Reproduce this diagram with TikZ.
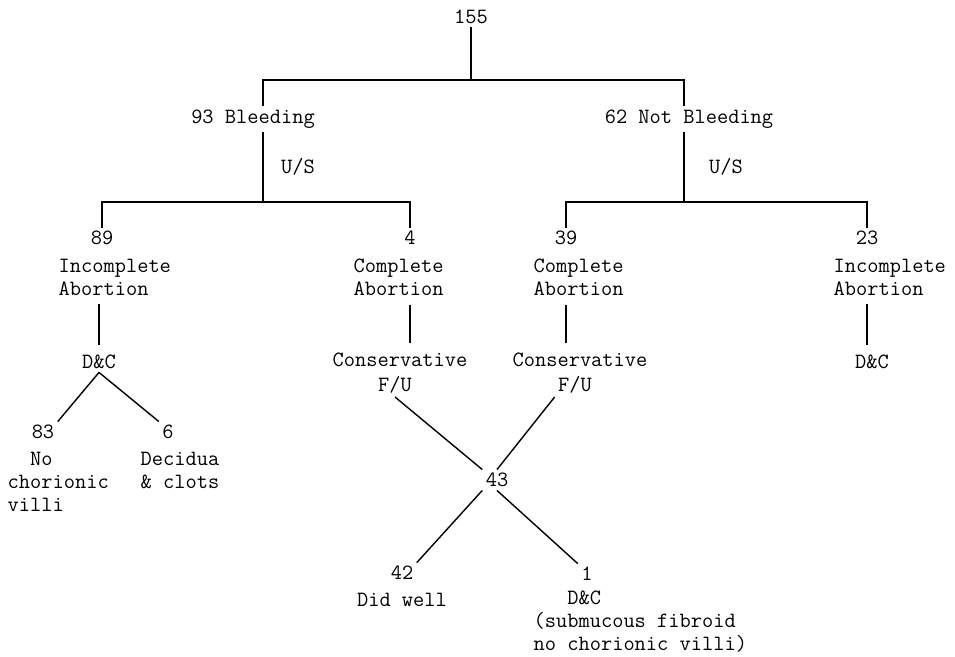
\documentclass[tikz,border=0pt]{standalone}
\usepackage{tikz}

\tikzset{
  lbl/.style={font=\fontsize{15.5}{16.5}\selectfont\ttfamily, inner sep=2pt},
  blk/.style={lbl, align=left, anchor=north west, inner sep=0pt},
  drop/.style={shorten <=6pt, shorten >=5pt}
}

\begin{document}
\begin{tikzpicture}[x=0.025cm, y=-0.025cm, line width=1pt]
  \useasboundingbox (0,0) rectangle (955,657);

  \node[lbl] (n155) at (471,17) {155};
  \coordinate (jtop) at (471,80);
  \coordinate (jl) at (263,80);
  \coordinate (jr) at (684,80);
  \node[lbl] (n93) at (253,119) {93 Bleeding};
  \node[lbl] (n62) at (689,119) {62 Not Bleeding};
  \draw (n155) -- (jtop);
  \draw (jl |- n93.north) -- (jl) -- (jr) -- (jr |- n62.north);

  \coordinate (j93) at (263,202);
  \coordinate (j62) at (684,202);
  \node[lbl] (us93) at (298,167) {U/S};
  \node[lbl] (us62) at (726,167) {U/S};
  \draw (j93 |- n93.south) -- (j93);
  \draw (j62 |- n62.south) -- (j62);

  \node[lbl] (n89) at (102,238) {89};
  \node[lbl] (n4) at (410,238) {4};
  \node[lbl] (n39) at (566,238) {39};
  \node[lbl] (n23) at (867,238) {23};
  \draw (n89) |- (j93) -| (n4);
  \draw (n39) |- (j62) -| (n23);
  \node[blk] (t89) at (58,258) {Incomplete\\Abortion};
  \node[blk] (t4) at (353,258) {Complete\\Abortion};
  \node[blk] (t39) at (533,258) {Complete\\Abortion};
  \node[blk] (t23) at (833,258) {Incomplete\\Abortion};

  \node[lbl] (dcA) at (99,362) {D\&C};
  \node[lbl] (cvA) at (400,360) {Conservative};
  \node[lbl] (fuA) at (395,385) {F/U};
  \node[lbl] (cvB) at (580,360) {Conservative};
  \node[lbl] (fuB) at (575,385) {F/U};
  \node[lbl] (dcB) at (872,362) {D\&C};
  \draw[drop] (dcA |- t89.south) -- (dcA);
  \draw[drop] (n4 |- t4.south) -- (n4 |- cvA.north);
  \draw[drop] (n39 |- t39.south) -- (n39 |- cvB.north);
  \draw[drop] (n23 |- t23.south) -- (n23 |- dcB.north);

  \node[lbl] (n83) at (43,432) {83};
  \node[lbl] (n6) at (168,432) {6};
  \node[blk] (t83) at (7,451) {\phantom{00}No\\chorionic\\villi};
  \node[blk] (t6) at (140,451) {Decidua\\\& clots};
  \draw (dcA.south) -- (n83.north east);
  \draw (dcA.south) -- (n6.north west);

  \node[lbl] (n43) at (497,480) {43};
  \draw (fuA.south) -- (n43.north west);
  \draw (fuB.south west) -- (n43.north);
  \node[lbl] (n42) at (402,573) {42};
  \node[lbl] (n1) at (587,574) {1};
  \draw (n43.south west) -- (n42.north east);
  \draw (n43.south) -- (n1.north west);
  \node[lbl] (t42) at (402,600) {Did well};
  \node[blk] (t1) at (533,590) {\phantom{000}D\&C\\(submucous fibroid\\no chorionic villi)};
\end{tikzpicture}
\end{document}
